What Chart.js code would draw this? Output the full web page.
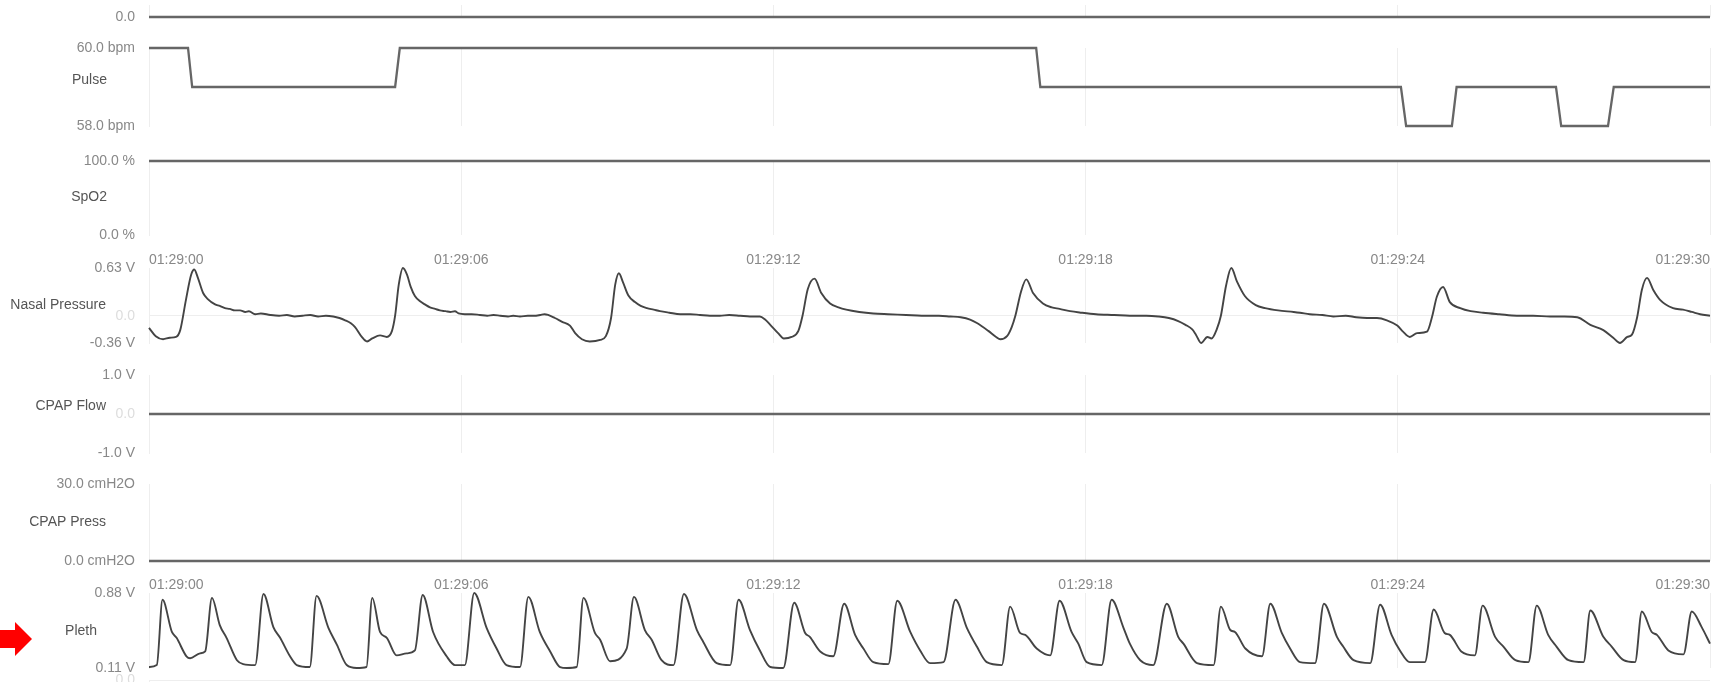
<!DOCTYPE html>
<html>
<head>
<meta charset="utf-8">
<title>Signals</title>
<script src="https://cdn.jsdelivr.net/npm/chart.js@4.4.0/dist/chart.umd.min.js"></script>
<style>
  html, body { margin: 0; padding: 0; background: #fff; overflow: hidden; width: 1712px; height: 682px; }
  canvas { position: absolute; left: 0; }
  #arrow { position: absolute; left: 0; top: 620px; }
</style>
</head>
<body>
<svg id="arrow" width="34" height="38"><polygon points="0,10 15,10 15,2 32,19 15,36 15,28 0,28" fill="#ff0000"/></svg>
<script>
// time axis (seconds after 01:29:00)
var timeTicks = [0, 6, 12, 18, 24, 30];
var timeLabels = ['01:29:00', '01:29:06', '01:29:12', '01:29:18', '01:29:24', '01:29:30'];

// top channel (cut off, only its zero is visible)
var topTime = [0, 30];
var topValue = [0, 0];
var topTicks = [0];
var topTickLabels = ['0.0'];

// pulse
var pulseTime = [0, 0.75, 0.83, 4.73, 4.82, 17.05, 17.13, 24.06, 24.16, 25.04, 25.13, 27.04, 27.14, 28.04, 28.15, 30];
var pulseValue = [60, 60, 59, 59, 60, 60, 59, 59, 58, 58, 59, 59, 58, 58, 59, 59];
var pulseTicks = [60, 58];
var pulseTickLabels = ['60.0 bpm', '58.0 bpm'];

// SpO2
var spo2Time = [0, 30];
var spo2Value = [100, 100];
var spo2Ticks = [100, 0];
var spo2TickLabels = ['100.0 %', '0.0 %'];

// nasal pressure
var nasalTime = [0.00, 0.13, 0.27, 0.40, 0.52, 0.60, 0.71, 0.81, 0.87, 0.94, 1.04, 1.13, 1.27, 1.36, 1.46, 1.55, 1.65, 1.75, 1.85, 1.92,
  2.04, 2.15, 2.33, 2.50, 2.65, 2.80, 2.95, 3.10, 3.25, 3.40, 3.54, 3.66, 3.77, 3.88, 3.96, 4.09, 4.19, 4.29, 4.44, 4.57,
  4.67, 4.73, 4.80, 4.88, 4.96, 5.03, 5.11, 5.21, 5.30, 5.40, 5.50, 5.59, 5.70, 5.79, 5.88, 5.95, 6.07, 6.20, 6.36, 6.50,
  6.62, 6.75, 6.90, 7.00, 7.13, 7.28, 7.40, 7.52, 7.60, 7.67, 7.80, 7.94, 8.09, 8.19, 8.32, 8.47, 8.67, 8.78, 8.88, 8.96,
  9.03, 9.11, 9.21, 9.34, 9.45, 9.57, 9.70, 9.82, 10.00, 10.21, 10.40, 10.59, 10.78, 10.97, 11.15, 11.36, 11.55, 11.74, 11.84, 11.94,
  12.09, 12.20, 12.35, 12.48, 12.56, 12.66, 12.79, 12.92, 13.09, 13.25, 13.40, 13.65, 13.92, 14.20, 14.55, 14.85, 15.18, 15.40, 15.60, 15.78,
  15.92, 16.13, 16.28, 16.36, 16.49, 16.58, 16.65, 16.76, 16.86, 16.99, 17.18, 17.35, 17.50, 17.70, 17.92, 18.20, 18.55, 18.85, 19.17, 19.40,
  19.60, 19.78, 19.92, 20.05, 20.12, 20.22, 20.34, 20.42, 20.52, 20.60, 20.70, 20.80, 20.91, 21.06, 21.27, 21.45, 21.70, 22.00, 22.12, 22.31,
  22.55, 22.76, 23.00, 23.20, 23.41, 23.60, 23.79, 23.99, 24.10, 24.23, 24.37, 24.56, 24.66, 24.75, 24.87, 25.00, 25.20, 25.40, 25.64, 25.95,
  26.29, 26.60, 26.93, 27.20, 27.45, 27.70, 27.95, 28.14, 28.27, 28.41, 28.50, 28.60, 28.69, 28.79, 28.91, 29.04, 29.29, 29.48, 29.65, 29.81,
  30.00];
var nasalValue = [-0.16, -0.27, -0.31, -0.29, -0.28, -0.19, 0.21, 0.54, 0.61, 0.50, 0.30, 0.22, 0.15, 0.13, 0.10, 0.09, 0.07, 0.07, 0.05, 0.06,
  0.02, 0.03, 0.01, 0.00, 0.01, -0.01, 0.00, 0.01, -0.01, 0.00, -0.01, -0.03, -0.06, -0.10, -0.15, -0.28, -0.34, -0.30, -0.26, -0.28,
  -0.20, 0.00, 0.41, 0.63, 0.54, 0.38, 0.26, 0.19, 0.15, 0.11, 0.09, 0.07, 0.06, 0.05, 0.06, 0.03, 0.02, 0.02, 0.01, 0.00,
  0.01, 0.00, -0.01, 0.00, -0.01, 0.00, 0.00, 0.01, 0.02, 0.01, -0.03, -0.08, -0.13, -0.23, -0.31, -0.34, -0.32, -0.27, -0.03, 0.41,
  0.56, 0.44, 0.27, 0.18, 0.13, 0.10, 0.08, 0.06, 0.04, 0.02, 0.02, 0.01, 0.00, 0.00, 0.01, 0.00, -0.01, -0.01, -0.05, -0.12,
  -0.23, -0.30, -0.28, -0.20, 0.00, 0.35, 0.49, 0.30, 0.16, 0.11, 0.08, 0.05, 0.03, 0.02, 0.01, 0.00, 0.00, -0.01, -0.02, -0.05,
  -0.10, -0.20, -0.28, -0.31, -0.27, -0.15, 0.00, 0.32, 0.48, 0.30, 0.16, 0.11, 0.09, 0.06, 0.04, 0.02, 0.01, 0.00, 0.00, -0.01,
  -0.03, -0.07, -0.12, -0.18, -0.25, -0.36, -0.28, -0.30, -0.18, 0.00, 0.40, 0.63, 0.45, 0.26, 0.14, 0.10, 0.07, 0.05, 0.04, 0.02,
  0.01, -0.01, 0.00, -0.02, -0.03, -0.03, -0.06, -0.13, -0.21, -0.28, -0.23, -0.21, -0.01, 0.25, 0.38, 0.18, 0.10, 0.06, 0.04, 0.02,
  0.00, 0.00, -0.01, -0.01, -0.02, -0.12, -0.19, -0.29, -0.36, -0.28, -0.25, -0.02, 0.34, 0.50, 0.34, 0.21, 0.10, 0.08, 0.05, 0.02,
  0.00];
var nasalTicks = [0.63, 0, -0.36];
var nasalTickLabels = ['0.63 V', '0.0', '-0.36 V'];

// CPAP flow
var flowTime = [0, 30];
var flowValue = [0, 0];
var flowTicks = [1, 0, -1];
var flowTickLabels = ['1.0 V', '0.0', '-1.0 V'];

// CPAP pressure
var pressTime = [0, 30];
var pressValue = [0, 0];
var pressTicks = [30, 0];
var pressTickLabels = ['30.0 cmH2O', '0.0 cmH2O'];

// pleth
var plethTime = [0.00, 0.15, 0.26, 0.44, 0.53, 0.72, 0.79, 0.98, 1.08, 1.21, 1.36, 1.49, 1.69, 1.81, 2.04, 2.20, 2.39, 2.52, 2.71, 2.84,
  3.09, 3.22, 3.45, 3.61, 3.80, 3.99, 4.18, 4.29, 4.44, 4.57, 4.76, 4.95, 5.11, 5.26, 5.46, 5.72, 5.88, 6.07, 6.25, 6.49,
  6.68, 6.87, 7.13, 7.29, 7.51, 7.71, 7.90, 8.03, 8.22, 8.35, 8.57, 8.67, 8.86, 9.18, 9.32, 9.53, 9.66, 9.85, 10.08, 10.28,
  10.53, 10.65, 10.91, 11.17, 11.33, 11.55, 11.74, 11.94, 12.19, 12.40, 12.61, 12.70, 12.90, 13.15, 13.36, 13.57, 13.73, 13.92, 14.21, 14.38,
  14.63, 14.82, 15.01, 15.27, 15.50, 15.72, 15.91, 16.10, 16.39, 16.55, 16.74, 16.84, 17.06, 17.32, 17.50, 17.73, 17.86, 18.02, 18.31, 18.50,
  18.73, 18.85, 19.05, 19.30, 19.56, 19.78, 19.88, 20.14, 20.46, 20.60, 20.78, 20.87, 21.07, 21.39, 21.55, 21.77, 21.93, 22.12, 22.41, 22.58,
  22.83, 22.95, 23.15, 23.47, 23.66, 23.88, 24.04, 24.23, 24.52, 24.69, 24.90, 25.00, 25.22, 25.48, 25.63, 25.87, 26.03, 26.26, 26.51, 26.67,
  26.89, 27.05, 27.28, 27.57, 27.70, 27.95, 28.11, 28.34, 28.56, 28.69, 28.88, 28.98, 29.20, 29.49, 29.65, 29.84, 30.00];
var plethValue = [0.12, 0.14, 0.81, 0.48, 0.42, 0.23, 0.21, 0.26, 0.28, 0.83, 0.55, 0.42, 0.19, 0.15, 0.14, 0.87, 0.53, 0.42, 0.23, 0.14,
  0.12, 0.85, 0.52, 0.35, 0.14, 0.11, 0.12, 0.83, 0.48, 0.42, 0.24, 0.26, 0.29, 0.86, 0.48, 0.23, 0.14, 0.14, 0.88, 0.52,
  0.31, 0.14, 0.12, 0.84, 0.48, 0.28, 0.12, 0.11, 0.12, 0.83, 0.47, 0.40, 0.18, 0.31, 0.84, 0.50, 0.40, 0.19, 0.14, 0.87,
  0.50, 0.38, 0.16, 0.14, 0.81, 0.50, 0.29, 0.12, 0.11, 0.78, 0.47, 0.43, 0.28, 0.23, 0.77, 0.45, 0.31, 0.17, 0.15, 0.80,
  0.48, 0.29, 0.16, 0.17, 0.81, 0.52, 0.33, 0.17, 0.14, 0.74, 0.47, 0.45, 0.31, 0.24, 0.80, 0.48, 0.36, 0.17, 0.14, 0.81,
  0.52, 0.36, 0.19, 0.14, 0.77, 0.43, 0.36, 0.16, 0.14, 0.74, 0.50, 0.48, 0.31, 0.23, 0.77, 0.47, 0.31, 0.17, 0.16, 0.77,
  0.43, 0.33, 0.19, 0.16, 0.76, 0.45, 0.29, 0.17, 0.17, 0.71, 0.47, 0.45, 0.28, 0.24, 0.75, 0.43, 0.33, 0.19, 0.17, 0.75,
  0.45, 0.33, 0.19, 0.17, 0.70, 0.43, 0.33, 0.19, 0.17, 0.69, 0.48, 0.45, 0.29, 0.25, 0.69, 0.53, 0.36];
var plethTicks = [0.88, 0.11];
var plethTickLabels = ['0.88 V', '0.11 V'];

// next channel below (cut off, only its zero is visible)
var bottomTicks = [0];
var bottomTickLabels = ['0.0'];

Chart.defaults.font.family = '"Liberation Sans", Arial, Helvetica, sans-serif';
Chart.defaults.font.size = 14;

var TIME_AXIS_H = 18;
var PAD = 30; // room around each chart area, bigger than the axis' own label padding

var panelTitle = {
  id: 'panelTitle',
  afterDraw: function(chart, args, opts) {
    if (!opts.text) return;
    var ctx = chart.ctx;
    ctx.save();
    ctx.font = '14px "Liberation Sans", Arial, sans-serif';
    ctx.fillStyle = '#555';
    ctx.textAlign = 'right';
    ctx.textBaseline = 'middle';
    ctx.fillText(opts.text, opts.x, opts.y);
    ctx.restore();
  }
};

function makePanel(p) {
  var top = p.areaTop - PAD;
  var h = p.areaBottom + PAD - top;
  var c = document.createElement('canvas');
  c.width = 1712; c.height = h;
  c.style.width = '1712px'; c.style.height = h + 'px';
  c.style.top = top + 'px';
  document.body.appendChild(c);

  var datasets = [];
  if (p.time) {
    datasets.push({
      data: p.time.map(function(t, i) { return { x: t, y: p.values[i] }; }),
      borderColor: p.smooth ? '#444444' : '#666666',
      borderWidth: p.smooth ? 1.9 : 2.3,
      pointRadius: 0,
      fill: false,
      tension: 0,
      cubicInterpolationMode: p.smooth ? 'monotone' : 'default',
      clip: 4
    });
  }

  new Chart(c.getContext('2d'), {
    type: 'line',
    data: { datasets: datasets },
    options: {
      responsive: false,
      animation: false,
      events: [],
      layout: {
        autoPadding: false,
        padding: { top: PAD - (p.showTime ? TIME_AXIS_H : 0), bottom: PAD, left: 0, right: 2 }
      },
      plugins: {
        legend: { display: false },
        tooltip: { enabled: false },
        panelTitle: { text: p.title, x: p.titleX, y: p.titleY - top }
      },
      scales: {
        x: {
          type: 'linear',
          min: 0, max: 30,
          position: p.showTime ? 'top' : 'bottom',
          afterBuildTicks: function(s) { s.ticks = timeTicks.map(function(v) { return { value: v }; }); },
          afterFit: function(s) { s.height = p.showTime ? TIME_AXIS_H : 0; },
          grid: { display: !p.noVGrid, color: '#eeeeee', drawTicks: false },
          border: { display: false },
          ticks: {
            display: !!p.showTime,
            align: 'inner',
            padding: -1,
            color: '#888',
            maxRotation: 0,
            autoSkip: false,
            callback: function(v) { return timeLabels[timeTicks.indexOf(v)]; }
          }
        },
        y: {
          type: 'linear',
          min: p.min, max: p.max,
          afterBuildTicks: function(s) { s.ticks = p.ticks.map(function(v) { return { value: v }; }); },
          afterFit: function(s) { s.width = 149; },
          grid: {
            drawTicks: false,
            color: function(ctx) { return (p.zeroLine && ctx.tick && ctx.tick.value === 0) ? '#eeeeee' : 'rgba(0,0,0,0)'; }
          },
          border: { color: '#eeeeee' },
          ticks: {
            padding: 14,
            color: function(ctx) { return (p.faintZero && ctx.tick && ctx.tick.value === 0) ? '#dddddd' : '#888'; },
            callback: function(v) { return p.labels[p.ticks.indexOf(v)]; }
          }
        }
      }
    },
    plugins: [panelTitle]
  });
}

var panels = [
  { time: topTime, values: topValue, min: 0, max: 1, ticks: topTicks, labels: topTickLabels,
    areaTop: 5, areaBottom: 17 },
  { title: 'Pulse', titleX: 107, titleY: 80, time: pulseTime, values: pulseValue, min: 58, max: 60,
    ticks: pulseTicks, labels: pulseTickLabels, areaTop: 48, areaBottom: 126 },
  { title: 'SpO2', titleX: 107, titleY: 197, time: spo2Time, values: spo2Value, min: 0, max: 100,
    ticks: spo2Ticks, labels: spo2TickLabels, areaTop: 161, areaBottom: 235 },
  { title: 'Nasal Pressure', titleX: 106, titleY: 305, time: nasalTime, values: nasalValue, min: -0.36, max: 0.63,
    ticks: nasalTicks, labels: nasalTickLabels, faintZero: true, zeroLine: true, smooth: true, showTime: true,
    areaTop: 268, areaBottom: 343 },
  { title: 'CPAP Flow', titleX: 106, titleY: 406, time: flowTime, values: flowValue, min: -1, max: 1,
    ticks: flowTicks, labels: flowTickLabels, faintZero: true, zeroLine: true,
    areaTop: 375, areaBottom: 453 },
  { title: 'CPAP Press', titleX: 106, titleY: 522, time: pressTime, values: pressValue, min: 0, max: 30,
    ticks: pressTicks, labels: pressTickLabels, areaTop: 484, areaBottom: 561 },
  { title: 'Pleth', titleX: 97, titleY: 631, time: plethTime, values: plethValue, min: 0.11, max: 0.88,
    ticks: plethTicks, labels: plethTickLabels, smooth: true, showTime: true,
    areaTop: 593, areaBottom: 668 },
  { min: -1, max: 0, ticks: bottomTicks, labels: bottomTickLabels, faintZero: true, zeroLine: true, noVGrid: true,
    areaTop: 680, areaBottom: 720 }
];

panels.forEach(makePanel);
</script>
</body>
</html>
